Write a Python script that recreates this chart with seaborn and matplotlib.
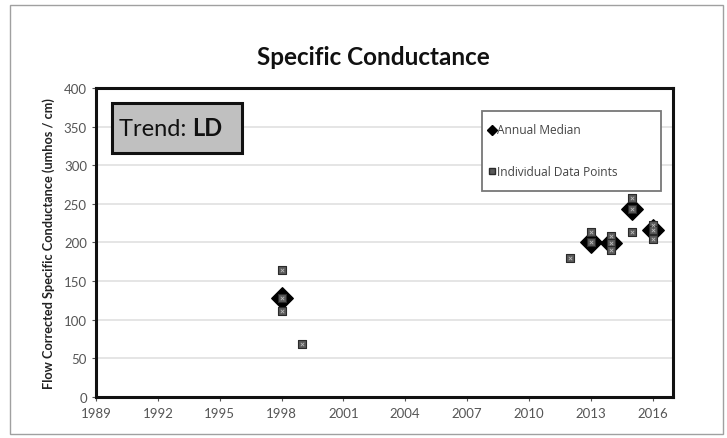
"""Specific conductance trend chart: annual medians and individual samples."""

import numpy as np
import pandas as pd
import matplotlib.pyplot as plt
import seaborn as sns
from matplotlib.patches import Rectangle

# individual samples (year, value)
point_years = [1998, 1998, 1998, 1999, 2012, 2013, 2013, 2014, 2014, 2014,
               2015, 2015, 2015, 2016, 2016, 2016]
point_values = [165, 128, 111, 68, 180, 214, 200, 209, 199, 190,
                257, 243, 213, 222, 216, 204]

# annual medians
median_years = [1998, 2013, 2014, 2015, 2016]
median_values = [128, 200, 199, 243, 216]

x_ticks = [1989, 1992, 1995, 1998, 2001, 2004, 2007, 2010, 2013, 2016]
y_ticks = [0, 50, 100, 150, 200, 250, 300, 350, 400]

sns.set_style("white")
plt.rcParams['font.family'] = ['Lato', 'DejaVu Sans']

points = pd.DataFrame({"year": point_years, "value": point_values})
medians = pd.DataFrame({"year": median_years, "value": median_values})

fig = plt.figure(figsize=(7.27, 4.39), dpi=100)
ax = fig.add_axes([0.132, 0.0934, 0.794, 0.704])

# outer chart border
fig.patches.append(Rectangle((0.014, 0.008), 0.980, 0.978, transform=fig.transFigure,
                             fill=False, edgecolor='#a0a0a0', linewidth=1.0))

for yv in y_ticks[1:-1]:
    ax.axhline(yv, color='#e3e3e3', linewidth=1.3, zorder=0)

sns.scatterplot(data=medians, x="year", y="value", marker='D', s=120, color='black',
                edgecolor='black', linewidth=1, ax=ax, zorder=3, legend=False)
sns.scatterplot(data=points, x="year", y="value", marker='s', s=30, color='#5a5a5a',
                edgecolor='#2a2a2a', linewidth=0.8, ax=ax, zorder=4, legend=False)
ax.scatter(point_years, point_values, marker='x', s=6, color='#b8b8b8', linewidth=0.6, zorder=5)

ax.set_xlim(1989, 2017)
ax.set_ylim(0, 400)
ax.set_xticks(x_ticks)
ax.set_yticks(y_ticks)
ax.set_xlabel("")
ax.set_ylabel("Flow Corrected Specific Conductance (umhos / cm)", fontsize=9.2,
              fontweight='bold', color='#222222', labelpad=6)
ax.tick_params(axis='both', labelsize=9.5, colors='#555555', length=3, width=0.8,
               direction='out', bottom=True, left=True)
ax.tick_params(axis='x', pad=4)

for side in ['left', 'bottom', 'right', 'top']:
    ax.spines[side].set_visible(True)
    ax.spines[side].set_color('#111111')
    ax.spines[side].set_linewidth(2.2)

fig.text(0.514, 0.868, "Specific Conductance", ha='center', va='center',
         fontsize=17.5, fontweight='bold', color='#111111')

# trend box
ax.add_patch(Rectangle((0.028, 0.790), 0.225, 0.160, transform=ax.transAxes,
                       facecolor='#c0c0c0', edgecolor='#111111', linewidth=2.2, zorder=6))
trend = ax.text(0.040, 0.868, "Trend: ", transform=ax.transAxes, fontsize=17,
                va='center', ha='left', color='#111111', zorder=7)
ax.annotate("LD", xy=(1, 0), xycoords=trend, fontsize=17, fontweight='bold',
            va='bottom', ha='left', color='#111111', zorder=7)

# legend box, laid out like the original
ax.add_patch(Rectangle((0.669, 0.667), 0.310, 0.259, transform=ax.transAxes,
                       facecolor='white', edgecolor='#777777', linewidth=1.3, zorder=6))
ax.plot([0.686], [0.864], transform=ax.transAxes, marker='D', markersize=5,
        color='black', linestyle='none', zorder=7)
ax.plot([0.686], [0.731], transform=ax.transAxes, marker='s', markersize=5,
        markerfacecolor='#5a5a5a', markeredgecolor='#2a2a2a', linestyle='none', zorder=7)
ax.text(0.695, 0.864, "Annual Median", transform=ax.transAxes, fontsize=8.6,
        family=['Open Sans', 'DejaVu Sans'], color='#444444', va='center', ha='left', zorder=7)
ax.text(0.695, 0.731, "Individual Data Points", transform=ax.transAxes, fontsize=8.6,
        family=['Open Sans', 'DejaVu Sans'], color='#444444', va='center', ha='left', zorder=7)

plt.savefig("out.png", dpi=100)
plt.close()
